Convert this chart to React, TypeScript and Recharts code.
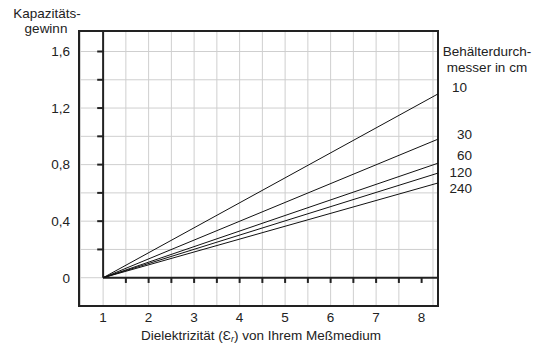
import { CartesianGrid, Line, LineChart, ReferenceArea, ReferenceLine, XAxis, YAxis } from "recharts"

// Dielektrizitaet (x) und Kapazitaetsgewinn je Behaelterdurchmesser
const permittivity = [1, 8.36]
const gain10 = [0, 1.3]
const gain30 = [0, 0.98]
const gain60 = [0, 0.81]
const gain120 = [0, 0.74]
const gain240 = [0, 0.67]
const diameters = ["10", "30", "60", "120", "240"]

const xTicks = [1, 2, 3, 4, 5, 6, 7, 8]
const yTicks = [0, 0.4, 0.8, 1.2, 1.6]
const yMinorTicks = [0.2, 0.4, 0.6, 0.8, 1.0, 1.2, 1.4, 1.6]
const xMinorTicks = [1.5, 2, 2.5, 3, 3.5, 4, 4.5, 5, 5.5, 6, 6.5, 7, 7.5, 8]

const X_MIN = 0.47
const X_MAX = 8.36
const Y_MIN = -0.2
const Y_MAX = 1.745

const data = permittivity.map((eps, i) => ({
  eps,
  d10: gain10[i],
  d30: gain30[i],
  d60: gain60[i],
  d120: gain120[i],
  d240: gain240[i],
}))

const xGrid = Array.from({ length: 32 }, (_, i) => 0.5 + i * 0.25)
const yGrid = Array.from({ length: 10 }, (_, i) => -0.2 + i * 0.2)

const font = "'Liberation Sans', Arial, sans-serif"
const fs = 13.5

// rechte Beschriftung: y-Mitte in px
const labelY = [88, 135, 156, 173, 189]

function Txt({ x, y, children, align = "left" }: any) {
  const style: any = {
    position: "absolute",
    top: y - 6.6,
    fontSize: fs,
    lineHeight: 1,
    whiteSpace: "nowrap",
    color: "#222",
  }
  if (align === "right") style.right = 537 - x
  else if (align === "center") {
    style.left = x
    style.transform = "translateX(-50%)"
  } else style.left = x
  return <div style={style}>{children}</div>
}

export default function App() {
  return (
    <div style={{ position: "absolute", left: 0, top: 0, width: 537, height: 344, fontFamily: font, background: "#fff" }}>
      <LineChart width={537} height={344} data={data} margin={{ top: 31, right: 99, bottom: 0, left: 0 }}>
        <CartesianGrid stroke="#cfcfcf" strokeWidth={1} verticalValues={xGrid} horizontalValues={yGrid} />
        <XAxis
          dataKey="eps"
          type="number"
          domain={[X_MIN, X_MAX]}
          ticks={xTicks}
          tickLine={false}
          axisLine={false}
          tickSize={0}
          tickMargin={6}
          height={38}
          tick={{ fill: "#222", fontSize: fs, fontFamily: font }}
          allowDataOverflow
        />
        <YAxis
          type="number"
          domain={[Y_MIN, Y_MAX]}
          ticks={yTicks}
          tickLine={false}
          axisLine={false}
          tickSize={0}
          tickMargin={9}
          width={79}
          tickFormatter={(v: number) => (v === 0 ? "0" : v.toFixed(1).replace(".", ","))}
          tick={{ fill: "#222", fontSize: fs, fontFamily: font }}
          allowDataOverflow
        />
        <ReferenceArea x1={X_MIN} x2={X_MAX} y1={Y_MIN} y2={Y_MAX} fill="none" stroke="#222" strokeWidth={2} />
        <ReferenceLine segment={[{ x: 1, y: 0 }, { x: 1, y: Y_MAX }]} stroke="#222" strokeWidth={2} />
        <ReferenceLine segment={[{ x: 1, y: 0 }, { x: X_MAX, y: 0 }]} stroke="#222" strokeWidth={2} />
        {yMinorTicks.map((v) => (
          <ReferenceLine key={"y" + v} segment={[{ x: 1 - 0.13, y: v }, { x: 1, y: v }]} stroke="#222" strokeWidth={2} />
        ))}
        {xMinorTicks.map((v) => (
          <ReferenceLine key={"x" + v} segment={[{ x: v, y: 0 }, { x: v, y: -0.037 }]} stroke="#222" strokeWidth={2} />
        ))}
        <Line dataKey="d10" stroke="#111" strokeWidth={1} dot={false} isAnimationActive={false} />
        <Line dataKey="d30" stroke="#111" strokeWidth={1} dot={false} isAnimationActive={false} />
        <Line dataKey="d60" stroke="#111" strokeWidth={1} dot={false} isAnimationActive={false} />
        <Line dataKey="d120" stroke="#111" strokeWidth={1} dot={false} isAnimationActive={false} />
        <Line dataKey="d240" stroke="#111" strokeWidth={1} dot={false} isAnimationActive={false} />
      </LineChart>

      <Txt x={47} y={14} align="center">Kapazitäts-</Txt>
      <Txt x={46} y={29} align="center">gewinn</Txt>

      <Txt x={487} y={52} align="center">Behälterdurch-</Txt>
      <Txt x={487} y={68} align="center">messer in cm</Txt>
      {diameters.map((d, i) => (
        <Txt key={d} x={d === "10" ? 467 : 472} y={labelY[i]} align="right">
          {d}
        </Txt>
      ))}

      <Txt x={261} y={336} align="center">
        Dielektrizität (Ɛ<sub style={{ fontSize: 9, fontStyle: "italic", verticalAlign: "baseline", position: "relative", top: 2 }}>r</sub>) von Ihrem Meßmedium
      </Txt>
    </div>
  )
}
